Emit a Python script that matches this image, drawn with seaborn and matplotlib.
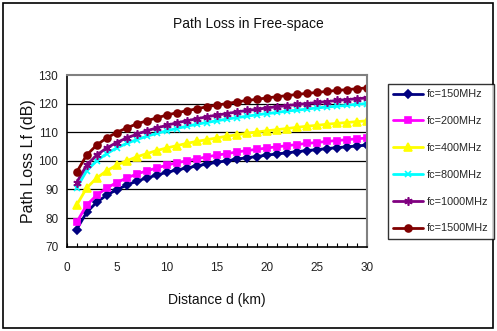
import matplotlib
matplotlib.use("Agg")
import matplotlib.pyplot as plt
from matplotlib.patches import Rectangle
import seaborn as sns
import pandas as pd

# Distance (km) and free-space path loss (dB) for each carrier frequency
distance_km = list(range(1, 31))
loss_150 = [76.0, 82.0, 85.5, 88.0, 89.9, 91.5, 92.9, 94.0, 95.0, 96.0,
            96.8, 97.5, 98.2, 98.9, 99.5, 100.0, 100.6, 101.1, 101.5, 102.0,
            102.4, 102.8, 103.2, 103.6, 103.9, 104.3, 104.6, 104.9, 105.2, 105.5]
loss_200 = [78.5, 84.5, 88.0, 90.5, 92.4, 94.0, 95.4, 96.5, 97.5, 98.5,
            99.3, 100.0, 100.7, 101.4, 102.0, 102.5, 103.1, 103.6, 104.0, 104.5,
            104.9, 105.3, 105.7, 106.1, 106.4, 106.8, 107.1, 107.4, 107.7, 108.0]
loss_400 = [84.5, 90.5, 94.0, 96.5, 98.5, 100.0, 101.4, 102.5, 103.6, 104.5,
            105.3, 106.1, 106.8, 107.4, 108.0, 108.6, 109.1, 109.6, 110.1, 110.5,
            110.9, 111.3, 111.7, 112.1, 112.4, 112.8, 113.1, 113.4, 113.7, 114.0]
loss_800 = [90.5, 96.5, 100.0, 102.5, 104.5, 106.1, 107.4, 108.6, 109.6, 110.5,
            111.3, 112.1, 112.8, 113.4, 114.0, 114.6, 115.1, 115.6, 116.1, 116.5,
            116.9, 117.4, 117.7, 118.1, 118.5, 118.8, 119.1, 119.4, 119.8, 120.0]
loss_1000 = [92.4, 98.5, 102.0, 104.5, 106.4, 108.0, 109.3, 110.5, 111.5, 112.4,
             113.3, 114.0, 114.7, 115.4, 116.0, 116.5, 117.1, 117.6, 118.0, 118.5,
             118.9, 119.3, 119.7, 120.0, 120.4, 120.7, 121.1, 121.4, 121.7, 122.0]
loss_1500 = [96.0, 102.0, 105.5, 108.0, 109.9, 111.5, 112.9, 114.0, 115.0, 116.0,
             116.8, 117.5, 118.2, 118.9, 119.5, 120.0, 120.6, 121.1, 121.5, 122.0,
             122.4, 122.8, 123.2, 123.6, 123.9, 124.3, 124.6, 124.9, 125.2, 125.5]

series_names = ["fc=150MHz", "fc=200MHz", "fc=400MHz",
                "fc=800MHz", "fc=1000MHz", "fc=1500MHz"]
series_values = [loss_150, loss_200, loss_400, loss_800, loss_1000, loss_1500]
colors = ["#000080", "#FF00FF", "#FFFF00", "#00FFFF", "#800080", "#800000"]
markers = ["D", "s", "^", "x", (6, 2, 0), "o"]
marker_sizes = [4.5, 4.6, 5.2, 5.0, 6.0, 5.0]

x_ticks = [0, 5, 10, 15, 20, 25, 30]
y_ticks = [70, 80, 90, 100, 110, 120, 130]

rows = []
for name, vals in zip(series_names, series_values):
    for d, v in zip(distance_km, vals):
        rows.append({"d": d, "loss": v, "series": name})
df = pd.DataFrame(rows)

sns.set_theme(style="white")
plt.rcParams["font.family"] = ["Liberation Sans", "DejaVu Sans"]

fig = plt.figure(figsize=(4.97, 3.31), dpi=100)
ax = fig.add_axes([0.134, 0.2547, 0.6044, 0.5187])

for name, col, mk, ms in zip(series_names, colors, markers, marker_sizes):
    sub = df[df["series"] == name]
    sns.lineplot(data=sub, x="d", y="loss", ax=ax, color=col, marker=mk,
                 markersize=ms, markeredgecolor=col, markerfacecolor=col,
                 markeredgewidth=1.2, linewidth=1.4, label=name)

ax.set_xlim(0, 30)
ax.set_ylim(70, 130)
ax.set_xticks(x_ticks)
ax.set_xticks(range(0, 31), minor=True)
ax.set_yticks(y_ticks)
ax.tick_params(axis="x", which="both", direction="in", length=3, width=0.8,
               color="black", bottom=True, labelsize=8.5, pad=11)
ax.tick_params(axis="y", length=0, labelsize=8.5, pad=6)
for lab in ax.get_xticklabels() + ax.get_yticklabels():
    lab.set_color("#222222")

for y in y_ticks[1:-1]:
    ax.axhline(y, color="black", linewidth=0.9, zorder=0)

for side in ["left", "bottom"]:
    ax.spines[side].set_color("black")
    ax.spines[side].set_linewidth(1.2)
for side in ["top", "right"]:
    ax.spines[side].set_color("#808080")
    ax.spines[side].set_linewidth(1.5)

ax.set_xlabel("Distance d (km)", fontsize=10, labelpad=14, color="#111111")
ax.set_ylabel("Path Loss Lf (dB)", fontsize=11.5, labelpad=2,
              color="#111111")
fig.text(0.5, 0.927, "Path Loss in Free-space", ha="center", va="center",
         fontsize=10, color="#111111")

ax.get_legend().remove()
handles, labels = ax.get_legend_handles_labels()
for h in handles:
    h.set_linewidth(2.0)
leg = fig.legend(handles, labels, loc="upper left",
                 bbox_to_anchor=(0.7807, 0.746), frameon=True, fancybox=False,
                 fontsize=7.8, handlelength=2.75, handletextpad=0.3,
                 labelspacing=1.55, borderpad=0.5, borderaxespad=0)
leg.get_frame().set_edgecolor("black")
leg.get_frame().set_linewidth(1.0)

fig.patches.append(Rectangle((0.006, 0.009), 0.986, 0.982,
                             transform=fig.transFigure, fill=False,
                             edgecolor="black", linewidth=1.2))

fig.savefig("out.png", dpi=100)
